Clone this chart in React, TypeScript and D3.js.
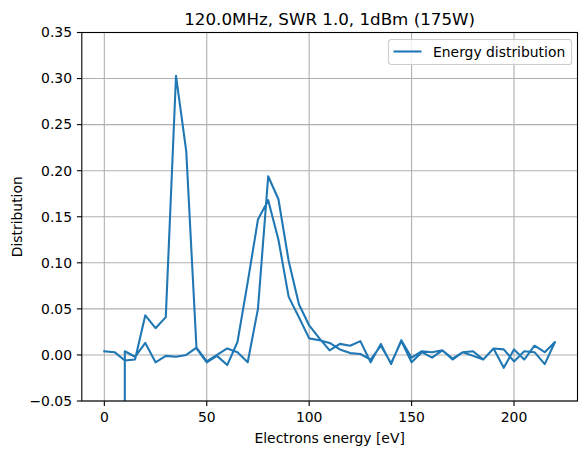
import React, { useEffect, useRef } from "react";
import * as d3 from "d3";

// Forward sweep, 0 → 220 eV
const energyUp = [
  0, 5, 10, 15, 20, 25, 30, 35, 40, 45, 50, 55, 60, 65, 70, 75, 80, 85, 90, 95,
  100, 105, 110, 115, 120, 125, 130, 135, 140, 145, 150, 155, 160, 165, 170,
  175, 180, 185, 190, 195, 200, 205, 210, 215, 220,
];
const distUp = [
  0.004, 0.003, -0.006, -0.005, 0.043, 0.029, 0.041, 0.303, 0.221, 0.007,
  -0.008, -0.001, -0.011, 0.014, 0.079, 0.147, 0.168, 0.125, 0.063, 0.041,
  0.018, 0.016, 0.013, 0.006, 0.002, 0.001, -0.005, 0.01, -0.009, 0.015,
  -0.008, 0.003, -0.003, 0.005, -0.005, 0.003, -0.001, -0.005, 0.007, -0.014,
  0.006, -0.005, 0.01, 0.003, 0.014,
];

// Return sweep, listed low → high; first sample is the bad reading at 10 eV
const energyDown = [
  10, 10, 15, 20, 25, 30, 35, 40, 45, 50, 55, 60, 65, 70, 75, 80, 85, 90, 95,
  100, 105, 110, 115, 120, 125, 130, 135, 140, 145, 150, 155, 160, 165, 170,
  175, 180, 185, 190, 195, 200, 205, 210, 215,
];
const distDown = [
  -0.12, 0.004, -0.002, 0.013, -0.008, -0.001, -0.002, 0.0, 0.008, -0.007,
  0.0, 0.007, 0.003, -0.008, 0.05, 0.194, 0.169, 0.102, 0.055, 0.032, 0.018,
  0.005, 0.012, 0.01, 0.015, -0.008, 0.012, -0.01, 0.016, -0.003, 0.004,
  0.003, 0.005, -0.004, 0.003, 0.004, -0.005, 0.007, 0.006, -0.007, 0.004,
  0.003, -0.01,
];

const xTicks = [0, 50, 100, 150, 200];
const yTicks = [-0.05, 0.0, 0.05, 0.1, 0.15, 0.2, 0.25, 0.3, 0.35];

const title = "120.0MHz, SWR 1.0, 1dBm (175W)";
const xLabel = "Electrons energy [eV]";
const yLabel = "Distribution";
const seriesName = "Energy distribution";

const W = 587;
const H = 455;
const FONT = "DejaVu Sans, sans-serif";
const BLUE = "#1f77b4";

export default function App() {
  const svgRef = useRef<SVGSVGElement>(null);

  useEffect(() => {
    const svg = d3.select(svgRef.current);
    svg.selectAll("*").remove();

    const left = 81.8;
    const right = 577.5;
    const top = 32.5;
    const bottom = 401;

    const x = d3.scaleLinear().domain([-11, 231]).range([left, right]);
    const y = d3.scaleLinear().domain([-0.05, 0.35]).range([bottom, top]);

    // one continuous trace: up the forward sweep, back down the return sweep
    const pts: [number, number][] = [];
    energyUp.forEach((e, i) => pts.push([e, distUp[i]]));
    for (let i = energyDown.length - 1; i >= 0; i--) {
      pts.push([energyDown[i], distDown[i]]);
    }

    svg
      .append("defs")
      .append("clipPath")
      .attr("id", "plot-clip")
      .append("rect")
      .attr("x", left)
      .attr("y", top)
      .attr("width", right - left)
      .attr("height", bottom - top);

    // grid
    const grid = svg.append("g").attr("stroke", "#b0b0b0").attr("stroke-width", 1.1);
    xTicks.forEach((t) => {
      grid
        .append("line")
        .attr("x1", x(t))
        .attr("x2", x(t))
        .attr("y1", top)
        .attr("y2", bottom);
    });
    yTicks.forEach((t) => {
      grid
        .append("line")
        .attr("x1", left)
        .attr("x2", right)
        .attr("y1", y(t))
        .attr("y2", y(t));
    });

    const line = d3
      .line<[number, number]>()
      .x((d) => x(d[0]))
      .y((d) => y(d[1]));

    svg
      .append("path")
      .attr("clip-path", "url(#plot-clip)")
      .attr("d", line(pts))
      .attr("fill", "none")
      .attr("stroke", BLUE)
      .attr("stroke-width", 2.08)
      .attr("stroke-linejoin", "round")
      .attr("stroke-linecap", "square");

    // frame
    svg
      .append("rect")
      .attr("x", left)
      .attr("y", top)
      .attr("width", right - left)
      .attr("height", bottom - top)
      .attr("fill", "none")
      .attr("stroke", "black")
      .attr("stroke-width", 1.1);

    // ticks
    const tickG = svg
      .append("g")
      .attr("font-family", FONT)
      .attr("font-size", 13.9)
      .attr("fill", "black");
    xTicks.forEach((t) => {
      tickG
        .append("line")
        .attr("x1", x(t))
        .attr("x2", x(t))
        .attr("y1", bottom)
        .attr("y2", bottom + 4.9)
        .attr("stroke", "black")
        .attr("stroke-width", 1.1);
      tickG
        .append("text")
        .attr("x", x(t))
        .attr("y", bottom + 20.5)
        .attr("text-anchor", "middle")
        .text(d3.format("d")(t));
    });
    const yFmt = d3.format(".2f");
    yTicks.forEach((t) => {
      tickG
        .append("line")
        .attr("x1", left - 4.9)
        .attr("x2", left)
        .attr("y1", y(t))
        .attr("y2", y(t))
        .attr("stroke", "black")
        .attr("stroke-width", 1.1);
      tickG
        .append("text")
        .attr("x", left - 9.8)
        .attr("y", y(t))
        .attr("dy", "0.35em")
        .attr("text-anchor", "end")
        .text(yFmt(t));
    });

    // labels
    svg
      .append("text")
      .attr("x", (left + right) / 2)
      .attr("y", 24.5)
      .attr("text-anchor", "middle")
      .attr("font-family", FONT)
      .attr("font-size", 16.7)
      .text(title);

    svg
      .append("text")
      .attr("x", (left + right) / 2)
      .attr("y", 443)
      .attr("text-anchor", "middle")
      .attr("font-family", FONT)
      .attr("font-size", 13.9)
      .text(xLabel);

    svg
      .append("text")
      .attr("transform", `translate(22,${(top + bottom) / 2}) rotate(-90)`)
      .attr("text-anchor", "middle")
      .attr("font-family", FONT)
      .attr("font-size", 13.9)
      .text(yLabel);

    // legend
    const lg = svg.append("g").attr("transform", "translate(388.5,39.5)");
    lg.append("rect")
      .attr("width", 183)
      .attr("height", 25)
      .attr("rx", 2.8)
      .attr("fill", "white")
      .attr("fill-opacity", 0.8)
      .attr("stroke", "#cccccc")
      .attr("stroke-width", 1.1);
    lg.append("line")
      .attr("x1", 5)
      .attr("x2", 33)
      .attr("y1", 12)
      .attr("y2", 12)
      .attr("stroke", BLUE)
      .attr("stroke-width", 2.08);
    lg.append("text")
      .attr("x", 44.5)
      .attr("y", 17)
      .attr("font-family", FONT)
      .attr("font-size", 13.9)
      .text(seriesName);
  }, []);

  return (
    <svg
      ref={svgRef}
      width={W}
      height={H}
      style={{ position: "absolute", left: 0, top: 0, background: "white" }}
    />
  );
}
